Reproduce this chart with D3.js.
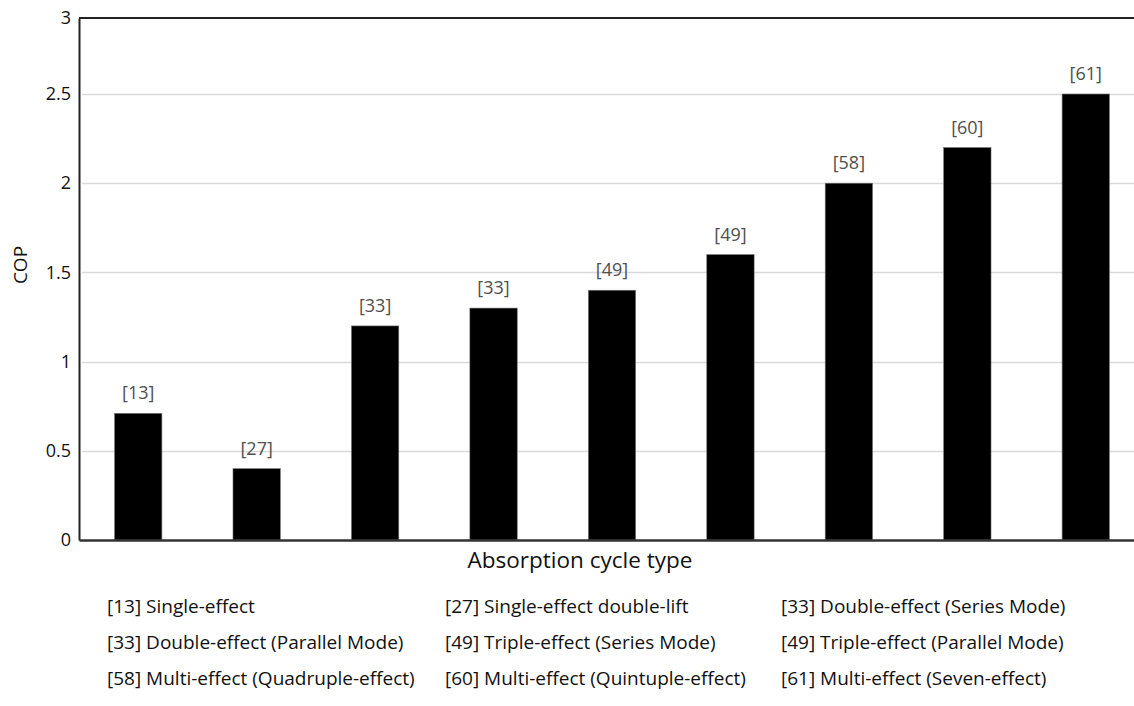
<!DOCTYPE html>
<html>
<head>
<meta charset="utf-8">
<script src="https://cdn.jsdelivr.net/npm/d3@7"></script>
<style>
  html, body { margin: 0; padding: 0; background: #fff; }
  svg { display: block; font-family: "Open Sans", sans-serif; }
</style>
</head>
<body>
<svg id="chart" width="1134" height="706"></svg>
<script>
const refLabels = ["[13]", "[27]", "[33]", "[33]", "[49]", "[49]", "[58]", "[60]", "[61]"];
const copValues = [0.71, 0.40, 1.20, 1.30, 1.40, 1.60, 2.00, 2.20, 2.50];
const yTicks = [0, 0.5, 1, 1.5, 2, 2.5, 3];
const legendItems = [
  "[13] Single-effect", "[27] Single-effect double-lift", "[33] Double-effect (Series Mode)",
  "[33] Double-effect (Parallel Mode)", "[49] Triple-effect (Series Mode)", "[49] Triple-effect (Parallel Mode)",
  "[58] Multi-effect (Quadruple-effect)", "[60] Multi-effect (Quintuple-effect)", "[61] Multi-effect (Seven-effect)"
];
const yTitle = "COP";
const xTitle = "Absorption cycle type";

const FONT = '"Open Sans", sans-serif';
const svg = d3.select("#chart");
const left = 79, right = 1145, bottom = 540;

const idx = d3.range(copValues.length);
const x = d3.scaleBand().domain(idx).range([left, right]).paddingInner(0.6).paddingOuter(0.3);
const y = d3.scaleLinear().domain([0, 2.5, 3]).range([bottom, 94, 18]);

// gridlines
svg.append("g").selectAll("line").data(yTicks.filter(t => t > 0 && t < 3)).join("line")
  .attr("x1", left + 3).attr("x2", 1134)
  .attr("y1", d => Math.round(y(d)) + 0.5).attr("y2", d => Math.round(y(d)) + 0.5)
  .attr("stroke", "#d9d9d9").attr("stroke-width", 1.5);

// top border
svg.append("line").attr("x1", left).attr("x2", 1134).attr("y1", y(3)).attr("y2", y(3))
  .attr("stroke", "#222").attr("stroke-width", 2);

// bars
svg.append("g").selectAll("rect").data(idx).join("rect")
  .attr("x", i => x(i)).attr("width", x.bandwidth())
  .attr("y", i => y(copValues[i])).attr("height", i => bottom - y(copValues[i]))
  .attr("fill", "#000").attr("stroke", "#777").attr("stroke-width", 0.6);

// bar labels
svg.append("g").selectAll("text").data(idx).join("text")
  .attr("x", i => x(i) + x.bandwidth() / 2)
  .attr("y", i => y(copValues[i]) - 14)
  .attr("text-anchor", "middle").attr("font-size", 18).attr("fill", "#505050")
  .text(i => refLabels[i]);

// y axis
const yAxis = d3.axisLeft(y).tickValues(yTicks).tickSize(0).tickPadding(8).tickFormat(d3.format("~g"));
const gy = svg.append("g").attr("transform", `translate(${left},0)`).call(yAxis);
gy.attr("font-family", FONT);
gy.select(".domain").attr("stroke", "#222").attr("stroke-width", 2);
gy.selectAll("text").attr("font-size", 18).attr("fill", "#111");

// x axis
const xAxis = d3.axisBottom(x).tickSize(0).tickFormat("");
const gx = svg.append("g").attr("transform", `translate(0,${bottom})`).call(xAxis);
gx.select(".domain").attr("stroke", "#333").attr("stroke-width", 2.5);

// titles
svg.append("text").attr("transform", `translate(27,265) rotate(-90)`)
  .attr("text-anchor", "middle").attr("font-size", 19).attr("fill", "#111").text(yTitle);
svg.append("text").attr("x", 580).attr("y", 568)
  .attr("text-anchor", "middle").attr("font-size", 22.5).attr("fill", "#111").text(xTitle);

// legend
const colX = [107, 445, 781];
const rowY = [613, 649, 685];
svg.append("g").selectAll("text").data(legendItems).join("text")
  .attr("x", (d, i) => colX[i % 3]).attr("y", (d, i) => rowY[Math.floor(i / 3)])
  .attr("font-size", 19).attr("fill", "#111").text(d => d);
</script>
</body>
</html>
